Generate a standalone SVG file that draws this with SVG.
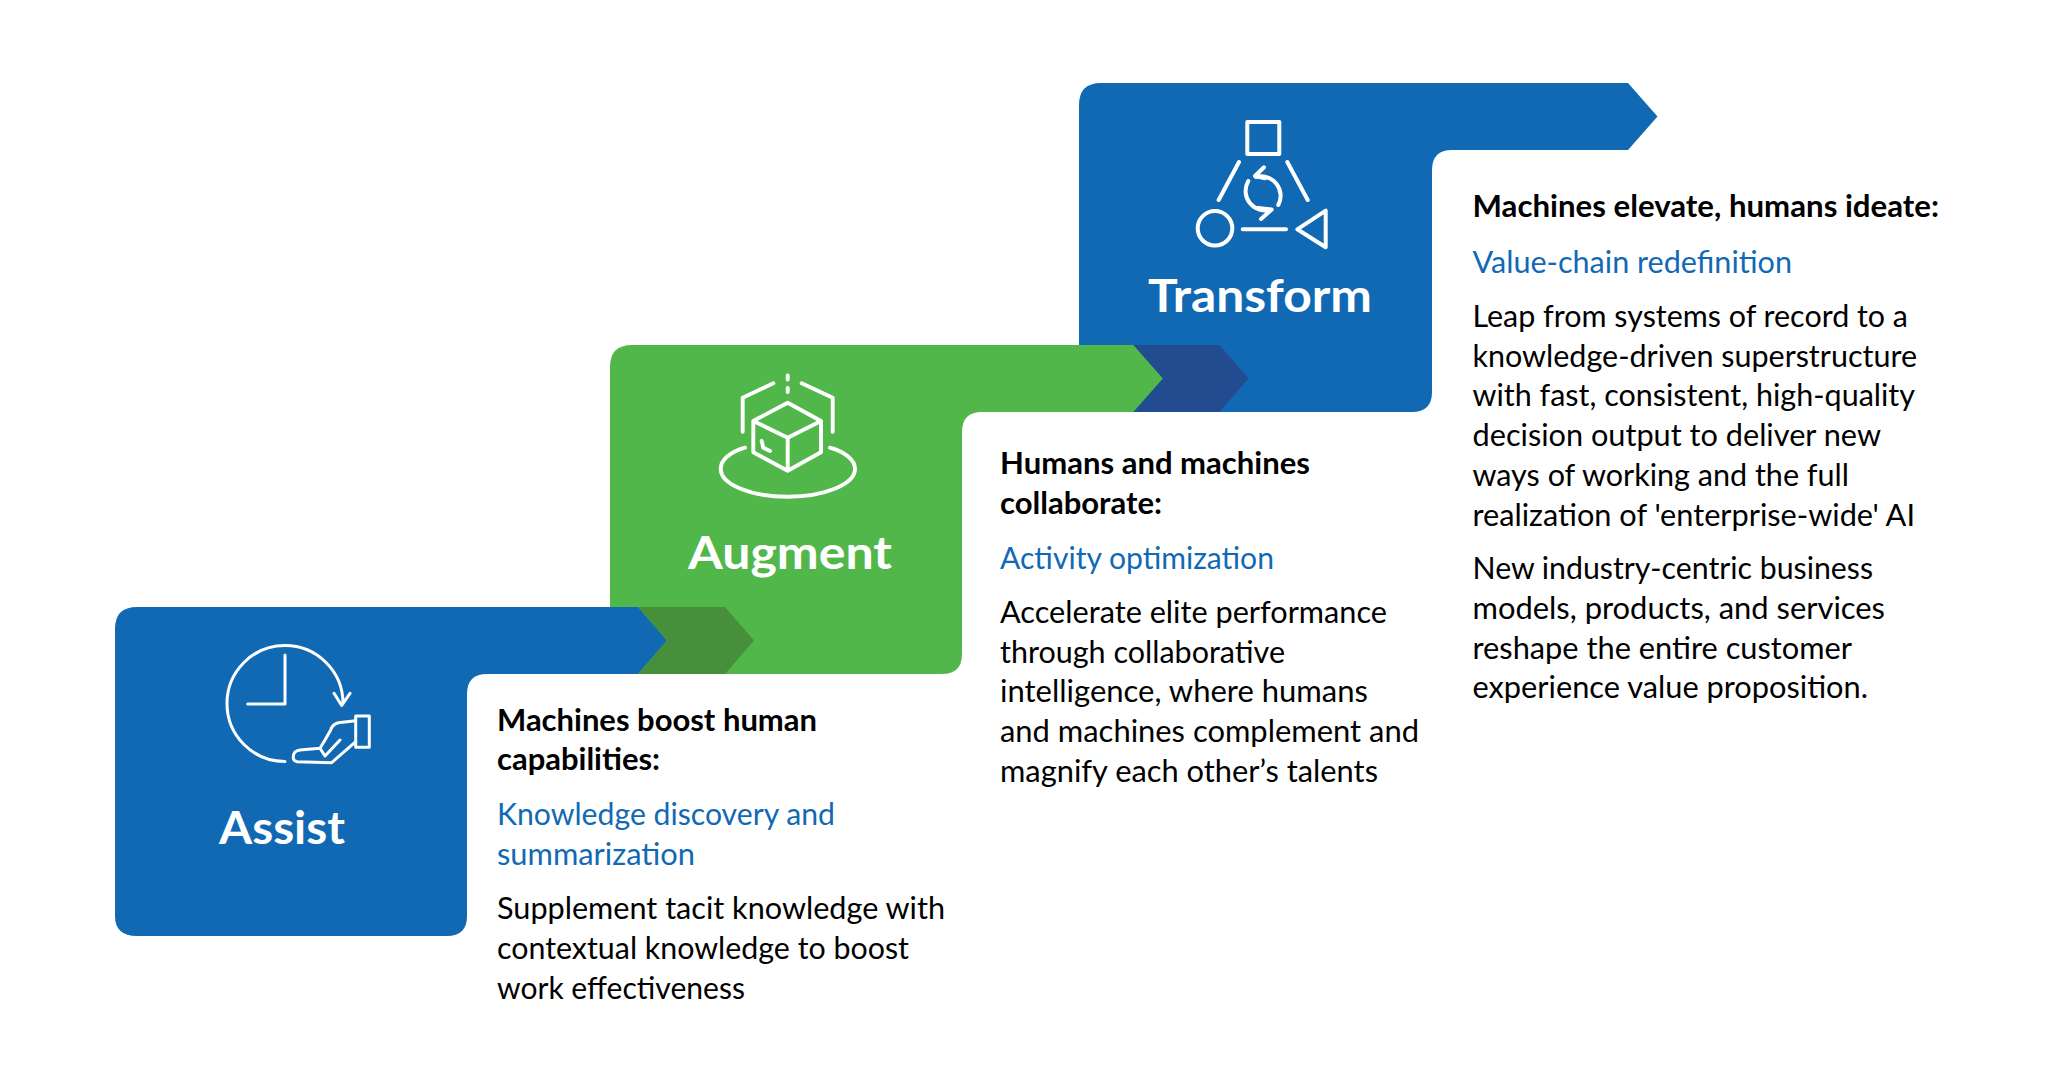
<svg xmlns="http://www.w3.org/2000/svg" width="2049" height="1076" viewBox="0 0 2049 1076">
<style>
text{font-family:Lato,"Noto Sans",sans-serif;font-size:30px;fill:#000}
.b{font-weight:700}
.l{fill:#1269B3}
.t{font-size:46px;font-weight:700;fill:#fff}
.i{fill:none;stroke:#fff;stroke-linecap:round;stroke-linejoin:round}
.blue{fill:#1269B3}
.green{fill:#52B74B}
</style>
<rect width="2049" height="1076" fill="#fff"/>

<g id="transform">
<path class="blue" d="M1101,83H1628L1657.5,116.5L1628,150H1452Q1432,150 1432,170V392Q1432,412 1412,412H1079V105Q1079,83 1101,83Z"/>
<g class="i" stroke-width="4">
<rect x="1247.3" y="122" width="32" height="32"/>
<path d="M1239,162L1218.7,200M1287.3,162L1307.7,200M1242.7,229.3H1286"/>
<circle cx="1215" cy="228.3" r="17.3"/>
<path d="M1297.3,229.3L1325.7,210.7V247.3Z"/>
<path d="M1256,177A19.5,19.5 0 0 1 1278.3,205M1264,167.3L1255,176L1265,178.3"/>
<path d="M1248.3,181A19.5,19.5 0 0 0 1271,209.5M1261,219L1271.7,209.5L1258,208"/>
</g>
<text class="t" x="1148" y="312" textLength="224" lengthAdjust="spacingAndGlyphs">Transform</text>
<text class="b" x="1472.5" y="217" textLength="466.5" lengthAdjust="spacingAndGlyphs">Machines elevate, humans ideate:</text>
<text class="l" x="1472.5" y="273" textLength="319.5" lengthAdjust="spacingAndGlyphs">Value-chain redefinition</text>
<text x="1472.5" y="327" textLength="435.5" lengthAdjust="spacingAndGlyphs">Leap from systems of record to a</text>
<text x="1472.5" y="366.5" textLength="444.5" lengthAdjust="spacingAndGlyphs">knowledge-driven superstructure</text>
<text x="1472.5" y="406" textLength="442.5" lengthAdjust="spacingAndGlyphs">with fast, consistent, high-quality</text>
<text x="1472.5" y="446" textLength="408.5" lengthAdjust="spacingAndGlyphs">decision output to deliver new</text>
<text x="1472.5" y="485.5" textLength="376.5" lengthAdjust="spacingAndGlyphs">ways of working and the full</text>
<text x="1472.5" y="526" textLength="442.5" lengthAdjust="spacingAndGlyphs">realization of 'enterprise-wide' AI</text>
<text x="1472.5" y="579" textLength="400.5" lengthAdjust="spacingAndGlyphs">New industry-centric business</text>
<text x="1472.5" y="619" textLength="412.5" lengthAdjust="spacingAndGlyphs">models, products, and services</text>
<text x="1472.5" y="659" textLength="379.5" lengthAdjust="spacingAndGlyphs">reshape the entire customer</text>
<text x="1472.5" y="698" textLength="395.5" lengthAdjust="spacingAndGlyphs">experience value proposition.</text>
</g>

<g id="augment">
<path class="green" d="M632,345H1133.5L1163,378.5L1133.5,412H982Q962,412 962,432V654Q962,674 942,674H610V367Q610,345 632,345Z"/>
<g class="i" stroke-width="3.9">
<path d="M787.7,375.5V379.5M787.7,388V392"/>
<path d="M773.3,383.3L742.7,397.7V431.7M801.7,383.3L832.7,397.7V431.7"/>
<path d="M787.7,402.7L821,421V452.3L787.7,470.7L753.3,452.3V421ZM753.3,421L787.7,437.7L821,421M787.7,437.7V470.7"/>
<path d="M761.7,441L763.3,447.7L770,451"/>
<path d="M745,447.7C730,452 720.7,460 720.7,469C720.7,484 750,496.7 787.7,496.7C825,496.7 855,484 855,469C855,460 845,452 830,447.7"/>
</g>
<text class="t" x="688" y="569" textLength="204" lengthAdjust="spacingAndGlyphs">Augment</text>
<text class="b" x="1000" y="474" textLength="310" lengthAdjust="spacingAndGlyphs">Humans and machines</text>
<text class="b" x="1000" y="514" textLength="162" lengthAdjust="spacingAndGlyphs">collaborate:</text>
<text class="l" x="1000" y="569" textLength="274" lengthAdjust="spacingAndGlyphs">Activity optimization</text>
<text x="1000" y="623" textLength="387" lengthAdjust="spacingAndGlyphs">Accelerate elite performance</text>
<text x="1000" y="663" textLength="285" lengthAdjust="spacingAndGlyphs">through collaborative</text>
<text x="1000" y="702" textLength="368" lengthAdjust="spacingAndGlyphs">intelligence, where humans</text>
<text x="1000" y="742" textLength="419" lengthAdjust="spacingAndGlyphs">and machines complement and</text>
<text x="1000" y="782" textLength="378" lengthAdjust="spacingAndGlyphs">magnify each other’s talents</text>
</g>

<g id="assist">
<path class="blue" d="M137,607H638L667,640.5L638,674H487Q467,674 467,694V916Q467,936 447,936H137Q115,936 115,916V629Q115,607 137,607Z"/>
<g class="i" stroke-width="3" stroke-linecap="butt">
<path d="M285,761.5A58,58 0 1 1 343,703.5M285,655V704H247.7M334,693.3L341.7,705.5L350,693.3"/>
<rect x="355.7" y="716" width="13.6" height="31.3"/>
<path d="M355.7,720.7L338.3,722.7C332,724 330.7,730 330.7,730L325,740L320,748.3L300,750C294,751 293,754 293.3,758.3C294,761 297.3,761.7 297.3,761.7L331.7,762.7L355.7,741.7M320,748.3L325,756L340,740"/>
</g>
<text class="t" x="219" y="844" textLength="126" lengthAdjust="spacingAndGlyphs">Assist</text>
<text class="b" x="497" y="731" textLength="320" lengthAdjust="spacingAndGlyphs">Machines boost human</text>
<text class="b" x="497" y="770" textLength="163" lengthAdjust="spacingAndGlyphs">capabilities:</text>
<text class="l" x="497" y="825" textLength="338" lengthAdjust="spacingAndGlyphs">Knowledge discovery and</text>
<text class="l" x="497" y="865" textLength="198" lengthAdjust="spacingAndGlyphs">summarization</text>
<text x="497" y="919" textLength="448" lengthAdjust="spacingAndGlyphs">Supplement tacit knowledge with</text>
<text x="497" y="959" textLength="412" lengthAdjust="spacingAndGlyphs">contextual knowledge to boost</text>
<text x="497" y="998.5" textLength="248" lengthAdjust="spacingAndGlyphs">work effectiveness</text>
</g>

<g id="connectors">
<path fill="#478F3B" d="M638,607H725L754,640.5L725,674H638L667,640.5Z"/>
<path fill="#234B8F" d="M1133.5,345H1219.5L1248.5,378.5L1219.5,412H1133.5L1163,378.5Z"/>
</g>
</svg>
